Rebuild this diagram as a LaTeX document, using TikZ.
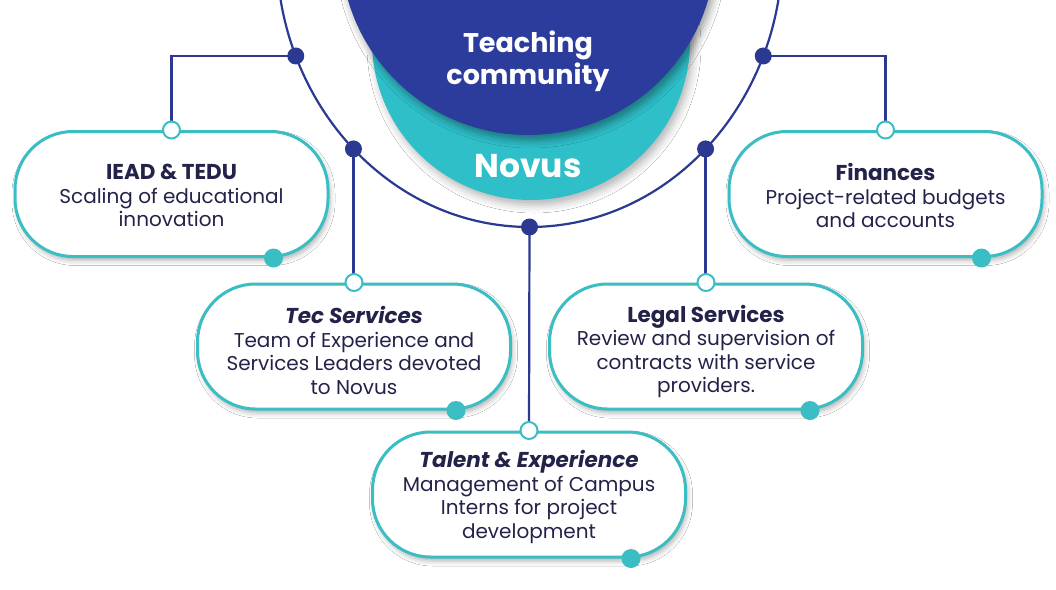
\documentclass[tikz,border=0pt]{standalone}
\usepackage{fontspec}
\setmainfont{Poppins}
\usetikzlibrary{shadows.blur}
\definecolor{navy}{HTML}{2B3990}
\definecolor{deepblue}{HTML}{2C3C9C}
\definecolor{aqua}{HTML}{2EBFC9}
\definecolor{boxteal}{HTML}{3BBDC4}
\definecolor{ink}{HTML}{23234A}
\newcommand{\ttl}[1]{{\fontsize{21.5}{23.5}\selectfont\bfseries #1}}
\tikzset{
  box/.style={draw=boxteal, line width=3pt, fill=white, rounded corners=58pt,
    minimum width=313pt, minimum height=125pt,
    blur shadow={shadow xshift=2pt, shadow yshift=-4pt, shadow blur radius=5pt, shadow opacity=30}},
  boxtext/.style={align=center, text=ink, font=\fontsize{20}{23.5}\selectfont, inner sep=0pt},
  opendot/.style={circle, draw=boxteal, line width=2pt, fill=white, minimum size=17pt, inner sep=0pt},
  tealdot/.style={circle, fill=boxteal, minimum size=19pt, inner sep=0pt},
  navydot/.style={circle, fill=navy, minimum size=17pt, inner sep=0pt},
  link/.style={draw=navy, line width=2.2pt},
  bigtext/.style={text=white, align=center, font=\bfseries\fontsize{27}{32}\selectfont}
}
\begin{document}
\begin{tikzpicture}[x=1pt,y=-1pt]
\useasboundingbox (0,0) rectangle (1056,589);
\clip (0,0) rectangle (1056,589);
\fill[white] (0,0) rectangle (1056,589);
% central circles
\path[fill=aqua, blur shadow={shadow xshift=3pt, shadow yshift=-5pt, shadow blur radius=8pt, shadow opacity=30}] (531,41) circle [radius=159];
\path[fill=deepblue, blur shadow={shadow xshift=3pt, shadow yshift=-5pt, shadow blur radius=8pt, shadow opacity=40}] (528,-52.5) circle [radius=187.5];
\node[bigtext] (teach) at (528,61) {Teaching\\community};
\node[text=white, font=\bfseries\fontsize{33}{36}\selectfont] (novus) at (528,166) {Novus};
% outer arc
\draw[link] (529.5,-50) ellipse [x radius=253, y radius=277];
\coordinate (p1) at ({529.5-253*cos(22.5)},{-50+277*sin(22.5)});
\coordinate (p2) at ({529.5-253*cos(45.9)},{-50+277*sin(45.9)});
\coordinate (p3) at (529.5,227);
\coordinate (p4) at ({529.5+253*cos(45.9)},{-50+277*sin(45.9)});
\coordinate (p5) at ({529.5+253*cos(22.5)},{-50+277*sin(22.5)});
% boxes
\node[box] (iead) at (171.5,194) {};
\node[box] (fin) at (885.5,194) {};
\node[box] (tec) at (354,346.5) {};
\node[box] (legal) at (706,346.5) {};
\node[box] (talent) at (529,494.5) {};
\node[boxtext] (iead-x) at (171.5,195.5) {\ttl{IEAD \& TEDU}\\Scaling of educational\\innovation};
\node[boxtext] (fin-x) at (885.5,195.5) {\ttl{Finances}\\Project-related budgets\\and accounts};
\node[boxtext] (tec-x) at (354,350.5) {\ttl{\textit{Tec Services}}\\Team of Experience and\\Services Leaders devoted\\to Novus};
\node[boxtext] (legal-x) at (706,351.5) {\ttl{Legal Services}\\Review and supervision of\\contracts with service\\providers.};
\node[boxtext] (talent-x) at (529,497) {\ttl{\textit{Talent \& Experience}}\\Management of Campus\\Interns for project\\development};
% connectors
\draw[link] (p1) -| (iead.north);
\draw[link] (p5) -| (fin.north);
\draw[link] (p2) -- (p2 |- tec.north);
\draw[link] (p4) -- (p4 |- legal.north);
\draw[link] (p3) -- (talent.north);
% dots on the arc
\node[navydot] (d1) at (p1) {};
\node[navydot] (d2) at (p2) {};
\node[navydot] (d3) at (p3) {};
\node[navydot] (d4) at (p4) {};
\node[navydot] (d5) at (p5) {};
% open dots on boxes
\node[opendot] (o1) at (iead.north) {};
\node[opendot] (o2) at (fin.north) {};
\node[opendot] (o3) at (tec.north) {};
\node[opendot] (o4) at (legal.north) {};
\node[opendot] (o5) at (talent.north) {};
% teal dots
\node[tealdot] (t1) at ([xshift=102pt]iead.south) {};
\node[tealdot] (t2) at ([xshift=96pt]fin.south) {};
\node[tealdot] (t3) at ([xshift=102pt]tec.south) {};
\node[tealdot] (t4) at ([xshift=104pt]legal.south) {};
\node[tealdot] (t5) at ([xshift=102pt]talent.south) {};
\end{tikzpicture}
\end{document}
